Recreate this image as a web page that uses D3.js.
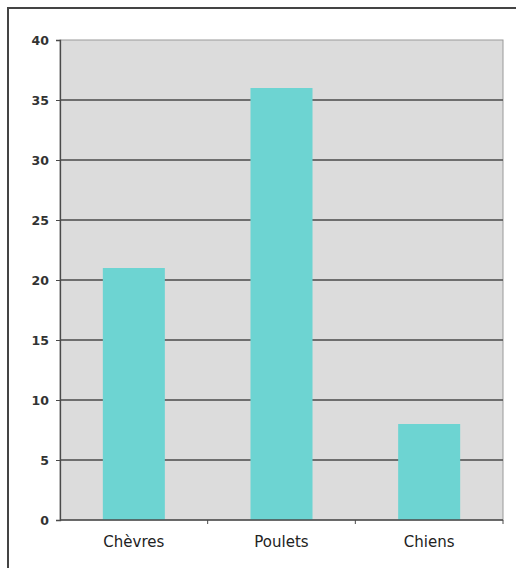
<!DOCTYPE html>
<html lang="fr">
<head>
  <meta charset="utf-8">
  <script src="https://d3js.org/d3.v7.min.js"></script>
  <style>
    body { margin: 0; background: #fff; }
    .ylab { font-family: "DejaVu Sans", Verdana, sans-serif; font-size: 12.5px; font-weight: bold; fill: #333; }
    .xlab { font-family: "DejaVu Sans", Verdana, sans-serif; font-size: 15px; fill: #222; }
  </style>
</head>
<body>
<script>
  // data
  const categories = ["Chèvres", "Poulets", "Chiens"];
  const values = [21, 36, 8];
  const yTicks = [0, 5, 10, 15, 20, 25, 30, 35, 40];

  const W = 516, H = 568;
  const plotL = 60, plotR = 503, plotT = 40, plotB = 520;

  const svg = d3.select("body").append("svg")
      .attr("width", W)
      .attr("height", H);

  // outer frame (left + top only visible)
  svg.append("rect")
      .attr("x", 8).attr("y", 8)
      .attr("width", W + 20).attr("height", H + 20)
      .attr("fill", "none")
      .attr("stroke", "#444")
      .attr("stroke-width", 2);

  const x = d3.scaleBand()
      .domain(categories)
      .range([plotL, plotR])
      .paddingInner(0.58)
      .paddingOuter(0.29);

  const y = d3.scaleLinear()
      .domain([0, 40])
      .range([plotB, plotT]);

  // plot background
  svg.append("rect")
      .attr("x", plotL).attr("y", plotT)
      .attr("width", plotR - plotL).attr("height", plotB - plotT)
      .attr("fill", "#dcdcdc")
      .attr("stroke", "#9a9a9a")
      .attr("stroke-width", 1);

  // gridlines
  svg.append("g")
      .selectAll("line")
      .data(yTicks.filter(d => d > 0 && d < 40))
      .join("line")
      .attr("x1", plotL).attr("x2", plotR)
      .attr("y1", d => y(d)).attr("y2", d => y(d))
      .attr("stroke", "#4a4a4a")
      .attr("stroke-width", 1.3);

  // bars
  svg.append("g")
      .selectAll("rect")
      .data(values)
      .join("rect")
      .attr("x", (d, i) => x(categories[i]))
      .attr("y", d => y(d))
      .attr("width", x.bandwidth())
      .attr("height", d => plotB - y(d))
      .attr("fill", "#6dd4d2");

  // y axis
  const yAxis = d3.axisLeft(y).tickValues(yTicks).tickSize(4).tickPadding(7);
  const gy = svg.append("g")
      .attr("transform", "translate(" + plotL + ",0)")
      .call(yAxis);
  gy.select(".domain").attr("stroke", "#4a4a4a").attr("stroke-width", 1.3);
  gy.selectAll(".tick line").attr("stroke", "#4a4a4a");
  gy.selectAll(".tick text").attr("class", "ylab").attr("fill", null);
  gy.attr("font-family", null).attr("font-size", null);

  // x axis: ticks at category boundaries
  const step = x.step();
  const bounds = d3.range(categories.length + 1).map(i => plotL + i * step);
  svg.append("line")
      .attr("x1", plotL).attr("x2", plotR)
      .attr("y1", plotB).attr("y2", plotB)
      .attr("stroke", "#4a4a4a").attr("stroke-width", 1.3);
  svg.append("g")
      .selectAll("line")
      .data(bounds.slice(1))
      .join("line")
      .attr("x1", d => d).attr("x2", d => d)
      .attr("y1", plotB).attr("y2", plotB + 4)
      .attr("stroke", "#4a4a4a");

  svg.append("g")
      .selectAll("text")
      .data(categories)
      .join("text")
      .attr("class", "xlab")
      .attr("x", d => x(d) + x.bandwidth() / 2)
      .attr("y", 547)
      .attr("text-anchor", "middle")
      .text(d => d);
</script>
</body>
</html>
